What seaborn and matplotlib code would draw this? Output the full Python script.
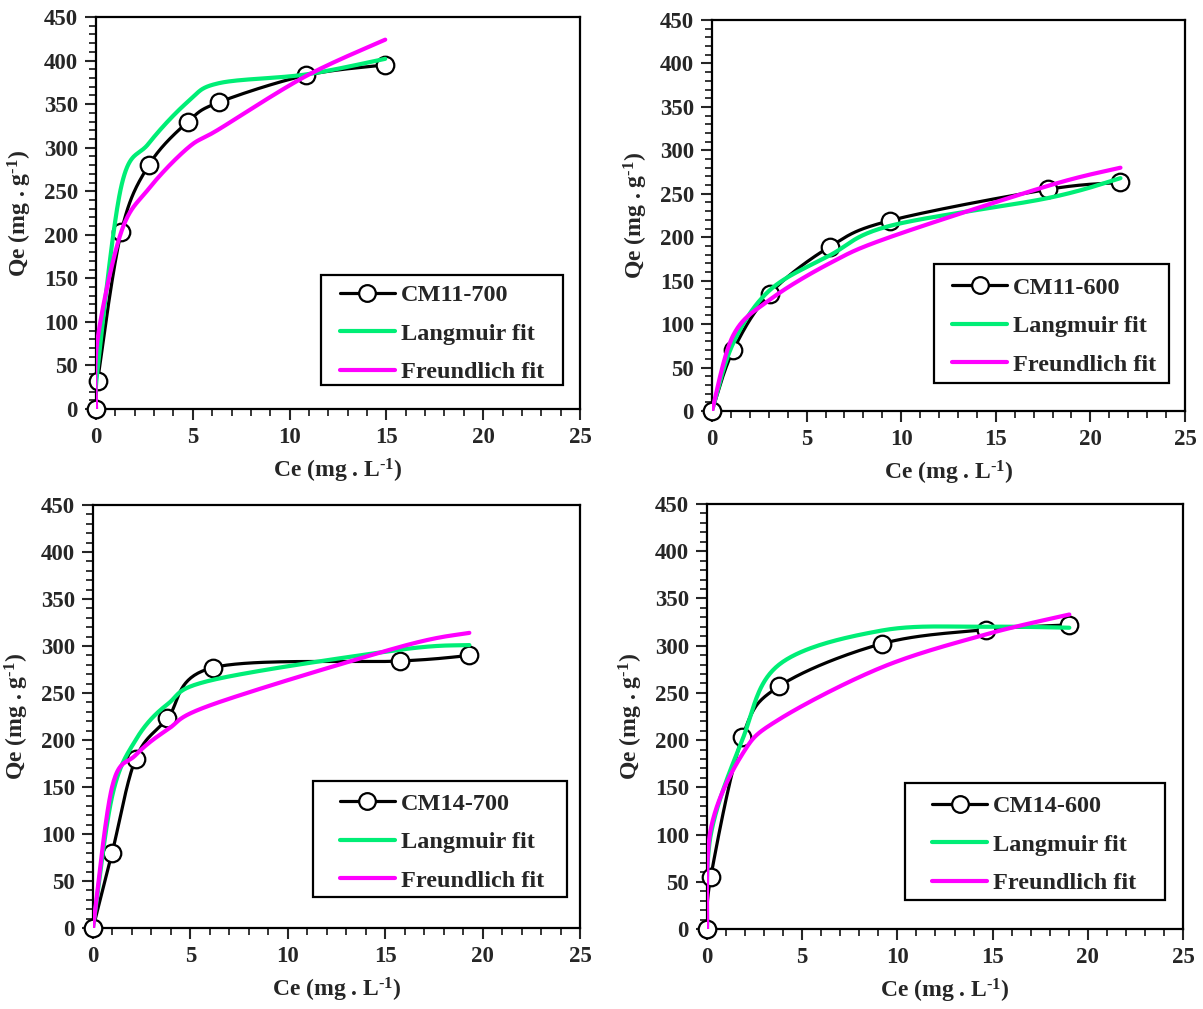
import numpy as np
import matplotlib
matplotlib.use("Agg")
import matplotlib.pyplot as plt
from matplotlib.lines import Line2D
from matplotlib.patches import Rectangle
from matplotlib.ticker import MultipleLocator
import seaborn as sns

# ---- adsorption isotherm data: Ce (mg/L) vs Qe (mg/g) ----
ce_cm11_700 = [0, 0.08, 1.30, 2.73, 4.76, 6.34, 10.83, 14.94]
qe_cm11_700 = [0, 31.6, 203, 280, 330, 352, 383, 395]
lang_cm11_700 = [0, 45, 255, 305, 353, 374, 384, 402]
freu_cm11_700 = [0, 80, 203, 253, 300, 321, 382, 424]

ce_cm11_600 = [0, 1.12, 3.05, 6.22, 9.39, 17.74, 21.59]
qe_cm11_600 = [0, 69.8, 135, 189, 219, 255, 263]
lang_cm11_600 = [0, 78, 139, 179, 213, 245, 268]
freu_cm11_600 = [0, 87, 128, 170, 200, 259, 280]

ce_cm14_700 = [0, 0.98, 2.19, 3.82, 6.16, 15.75, 19.32]
qe_cm14_700 = [0, 79.9, 180, 223, 277, 284, 290]
lang_cm14_700 = [0, 140, 200, 238, 264, 296, 301]
freu_cm14_700 = [0, 150, 184, 211, 238, 299, 314]

ce_cm14_600 = [0, 0.2, 1.85, 3.79, 9.17, 14.66, 19.03]
qe_cm14_600 = [0, 55.4, 203, 257, 302, 317, 322]
lang_cm14_600 = [0, 100, 200, 280, 316, 320, 319]
freu_cm14_600 = [0, 106, 185, 222, 277, 312, 333]

sample_names = ["CM11-700", "CM11-600", "CM14-700", "CM14-600"]
fit_names = ["Langmuir fit", "Freundlich fit"]

GREEN = "#00EE76"
MAGENTA = "#FF00FF"

sns.set_style("ticks")
plt.rcParams.update({
    "font.family": ["Liberation Serif", "DejaVu Serif"],
    "font.weight": "bold",
    "axes.labelweight": "bold",
    "mathtext.fontset": "custom",
    "mathtext.rm": "Liberation Serif:bold",
    "mathtext.bf": "Liberation Serif:bold",
    "mathtext.it": "Liberation Serif:bold",
    "mathtext.default": "rm",
})

W, H = 1203, 1009
fig = plt.figure(figsize=(W / 100, H / 100), dpi=100)

# axes boxes in pixels: left, right, top, bottom
boxes = [(96, 580, 17, 409), (712, 1185, 20, 411),
         (93, 580, 505, 928), (707, 1183, 504, 929)]
# legend frame (axes fraction): x0, x1, y_bottom, y_top ; handle start x, row centre y
legend_boxes = [
    (0.465, 0.965, 0.061, 0.342, 0.504, 0.192),
    (0.469, 0.966, 0.072, 0.376, 0.508, 0.217),
    (0.452, 0.973, 0.073, 0.348, 0.507, 0.203),
    (0.416, 0.962, 0.068, 0.344, 0.4735, 0.198),
]

panels = [
    (ce_cm11_700, qe_cm11_700, lang_cm11_700, freu_cm11_700),
    (ce_cm11_600, qe_cm11_600, lang_cm11_600, freu_cm11_600),
    (ce_cm14_700, qe_cm14_700, lang_cm14_700, freu_cm14_700),
    (ce_cm14_600, qe_cm14_600, lang_cm14_600, freu_cm14_600),
]

XMAX, YMAX = 25, 450


def smooth_curve(x, y, sx, sy, n=40):
    """Cubic Bezier smoothing through every point, tangents taken in screen space."""
    P = np.column_stack([np.asarray(x, float) * sx, np.asarray(y, float) * sy])
    Pe = np.vstack([P[0], P, P[-1]])
    t = np.linspace(0, 1, n)[1:, None]
    out = [P[:1]]
    for i in range(len(P) - 1):
        p0, p1, p2, p3 = Pe[i], Pe[i + 1], Pe[i + 2], Pe[i + 3]
        c1 = p1 + (p2 - p0) / 6.0
        c2 = p2 - (p3 - p1) / 6.0
        seg = ((1 - t) ** 3) * p1 + 3 * ((1 - t) ** 2) * t * c1 \
            + 3 * (1 - t) * t ** 2 * c2 + t ** 3 * p2
        out.append(seg)
    S = np.vstack(out)
    return S[:, 0] / sx, S[:, 1] / sy


for k, ((l, r, t, b), (ce, qe, lang, freu)) in enumerate(zip(boxes, panels)):
    ax = fig.add_axes([l / W, 1 - b / H, (r - l) / W, (b - t) / H])
    sx = (r - l) / XMAX
    sy = (b - t) / YMAX

    xs, ys = smooth_curve(ce, qe, sx, sy)
    sns.lineplot(x=xs, y=ys, sort=False, estimator=None, color="black",
                 linewidth=2.3, ax=ax, zorder=2)
    sns.scatterplot(x=ce, y=qe, s=160, marker="o", facecolor="white",
                    edgecolor="black", linewidth=1.6, ax=ax, zorder=3,
                    clip_on=False)
    xs, ys = smooth_curve(ce, lang, sx, sy)
    sns.lineplot(x=xs, y=ys, sort=False, estimator=None, color=GREEN,
                 linewidth=3.0, ax=ax, zorder=4)
    xs, ys = smooth_curve(ce, freu, sx, sy)
    sns.lineplot(x=xs, y=ys, sort=False, estimator=None, color=MAGENTA,
                 linewidth=3.0, ax=ax, zorder=5)

    ax.set_xlim(0, XMAX)
    ax.set_ylim(0, YMAX)
    ax.xaxis.set_major_locator(MultipleLocator(5))
    ax.xaxis.set_minor_locator(MultipleLocator(1))
    ax.yaxis.set_major_locator(MultipleLocator(50))
    ax.yaxis.set_minor_locator(MultipleLocator(10))
    ax.tick_params(which="major", direction="out", length=8, width=1.5,
                   labelsize=16.5, pad=5, top=False, right=False)
    ax.tick_params(which="minor", direction="out", length=5, width=1.3,
                   top=False, right=False)
    for lab in ax.get_xticklabels() + ax.get_yticklabels():
        lab.set_fontweight("bold")
    for sp in ax.spines.values():
        sp.set_visible(True)
        sp.set_linewidth(1.6)
        sp.set_color("black")

    ax.set_xlabel(r"Ce (mg . L$^{\text{-1}}$)", fontsize=17, labelpad=6)
    ax.set_ylabel(r"Qe (mg . g$^{\text{-1}}$)", fontsize=17, labelpad=7)

    x0, x1, y0, y1, hx, hy = legend_boxes[k]
    ax.add_patch(Rectangle((x0, y0), x1 - x0, y1 - y0, transform=ax.transAxes,
                           facecolor="white", edgecolor="black", linewidth=1.6,
                           zorder=6))
    handles = [
        Line2D([], [], color="black", linewidth=2.3, marker="o", markersize=12,
               markerfacecolor="white", markeredgecolor="black",
               markeredgewidth=1.6),
        Line2D([], [], color=GREEN, linewidth=3.0),
        Line2D([], [], color=MAGENTA, linewidth=3.0),
    ]
    leg = ax.legend(handles, [sample_names[k]] + fit_names, loc="center left",
                    bbox_to_anchor=(hx, hy), frameon=False,
                    handlelength=2.25, handletextpad=0.25, labelspacing=0.68,
                    borderpad=0, borderaxespad=0,
                    prop={"weight": "bold", "size": 17.5})
    leg.set_zorder(7)

fig.savefig("out.png", dpi=100)
